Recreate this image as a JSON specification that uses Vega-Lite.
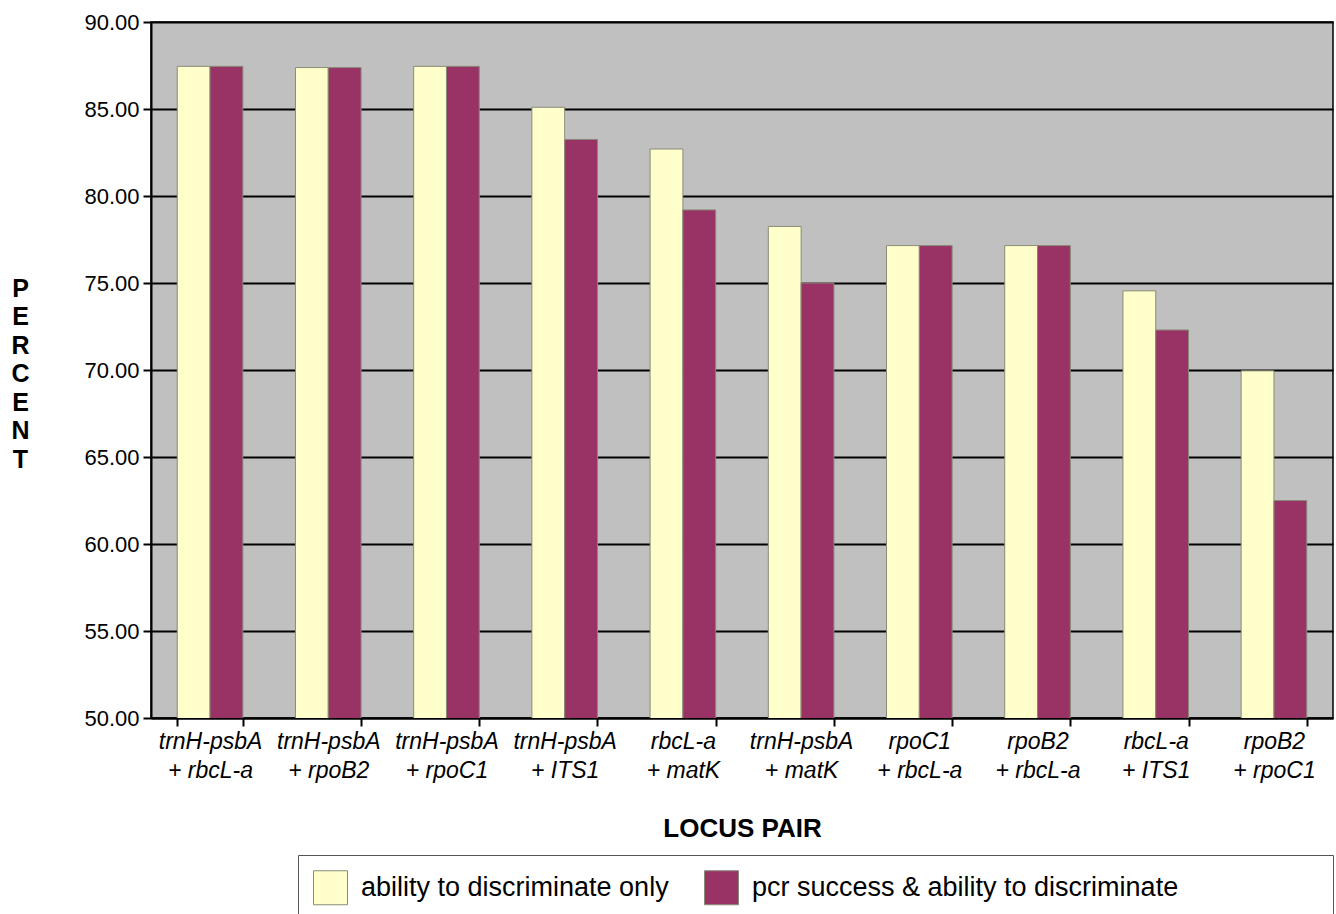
{
  "$schema": "https://vega.github.io/schema/vega-lite/v6.json",
  "width": 1182,
  "height": 696,
  "autosize": {"type": "none"},
  "padding": {"left": 151, "top": 22, "right": 3, "bottom": 196},
  "background": "white",
  "config": {
    "font": "Liberation Sans",
    "view": {"fill": "#C0C0C0", "stroke": "#000000", "strokeWidth": 1.5}
  },
  "data": {
    "values": [
      {"locus": "trnH-psbA|+ rbcL-a", "series": "ability to discriminate only", "value": 87.45},
      {"locus": "trnH-psbA|+ rbcL-a", "series": "pcr success & ability to discriminate", "value": 87.45},
      {"locus": "trnH-psbA|+ rpoB2", "series": "ability to discriminate only", "value": 87.38},
      {"locus": "trnH-psbA|+ rpoB2", "series": "pcr success & ability to discriminate", "value": 87.38},
      {"locus": "trnH-psbA|+ rpoC1", "series": "ability to discriminate only", "value": 87.45},
      {"locus": "trnH-psbA|+ rpoC1", "series": "pcr success & ability to discriminate", "value": 87.45},
      {"locus": "trnH-psbA|+ ITS1", "series": "ability to discriminate only", "value": 85.1},
      {"locus": "trnH-psbA|+ ITS1", "series": "pcr success & ability to discriminate", "value": 83.25},
      {"locus": "rbcL-a|+ matK", "series": "ability to discriminate only", "value": 82.7},
      {"locus": "rbcL-a|+ matK", "series": "pcr success & ability to discriminate", "value": 79.2},
      {"locus": "trnH-psbA|+ matK", "series": "ability to discriminate only", "value": 78.25},
      {"locus": "trnH-psbA|+ matK", "series": "pcr success & ability to discriminate", "value": 75.0},
      {"locus": "rpoC1|+ rbcL-a", "series": "ability to discriminate only", "value": 77.15},
      {"locus": "rpoC1|+ rbcL-a", "series": "pcr success & ability to discriminate", "value": 77.15},
      {"locus": "rpoB2|+ rbcL-a", "series": "ability to discriminate only", "value": 77.15},
      {"locus": "rpoB2|+ rbcL-a", "series": "pcr success & ability to discriminate", "value": 77.15},
      {"locus": "rbcL-a|+ ITS1", "series": "ability to discriminate only", "value": 74.55},
      {"locus": "rbcL-a|+ ITS1", "series": "pcr success & ability to discriminate", "value": 72.3},
      {"locus": "rpoB2|+ rpoC1", "series": "ability to discriminate only", "value": 69.95},
      {"locus": "rpoB2|+ rpoC1", "series": "pcr success & ability to discriminate", "value": 62.5}
    ]
  },
  "mark": {"type": "bar", "stroke": "#8a8a78", "strokeWidth": 1, "clip": true},
  "encoding": {
    "x": {
      "field": "locus",
      "type": "nominal",
      "sort": null,
      "scale": {"paddingInner": 0.445, "paddingOuter": 0.222},
      "axis": {
        "title": "LOCUS PAIR",
        "titleFont": "Liberation Sans",
        "titleFontSize": 26,
        "titleFontWeight": "bold",
        "titleColor": "#000000",
        "titleBaseline": "top",
        "titleY": 97,
        "labelExpr": "datum.value ? split(datum.value, '|') : ''",
        "labelAngle": 0,
        "labelFontSize": 23,
        "labelFontStyle": "italic",
        "labelColor": "#000000",
        "labelLineHeight": 29,
        "labelPadding": 4,
        "labelBaseline": "top",
        "labelLimit": 0,
        "tickBand": "extent",
        "tickSize": 8,
        "tickWidth": 2,
        "tickColor": "#000000",
        "domainColor": "#000000",
        "domainWidth": 2,
        "grid": false
      }
    },
    "xOffset": {"field": "series", "type": "nominal", "sort": ["ability to discriminate only", "pcr success & ability to discriminate"], "scale": {"paddingInner": 0}},
    "y": {
      "field": "value",
      "type": "quantitative",
      "scale": {"domain": [50, 90], "zero": false, "nice": false},
      "axis": {
        "title": ["P", "E", "R", "C", "E", "N", "T"],
        "titleAngle": 0,
        "titleFontSize": 25,
        "titleFontWeight": "bold",
        "titleColor": "#000000",
        "titleLineHeight": 28.5,
        "titleBaseline": "top",
        "titleAlign": "center",
        "titleX": -131,
        "titleY": 254,
        "values": [50, 55, 60, 65, 70, 75, 80, 85, 90],
        "format": ".2f",
        "labelFontSize": 22,
        "labelColor": "#000000",
        "labelPadding": 4,
        "tickSize": 8,
        "tickWidth": 2,
        "tickColor": "#000000",
        "domainColor": "#000000",
        "domainWidth": 2,
        "grid": true,
        "gridColor": "#000000",
        "gridWidth": 2
      }
    },
    "color": {
      "field": "series",
      "type": "nominal",
      "sort": ["ability to discriminate only", "pcr success & ability to discriminate"],
      "scale": {"range": ["#FFFFCC", "#993366"]},
      "legend": {
        "title": "\u00a0",
        "titleOrient": "right",
        "titlePadding": 140,
        "titleFontSize": 10,
        "orient": "none",
        "legendX": 147,
        "legendY": 833,
        "direction": "horizontal",
        "columns": 2,
        "symbolType": "square",
        "symbolSize": 1156,
        "symbolStrokeColor": "#8a8a78",
        "symbolStrokeWidth": 1,
        "labelFontSize": 27,
        "labelLimit": 0,
        "labelColor": "#000000",
        "labelOffset": 13,
        "columnPadding": 33,
        "padding": 15,
        "strokeColor": "#555555",
        "fillColor": "#FFFFFF"
      }
    }
  }
}
